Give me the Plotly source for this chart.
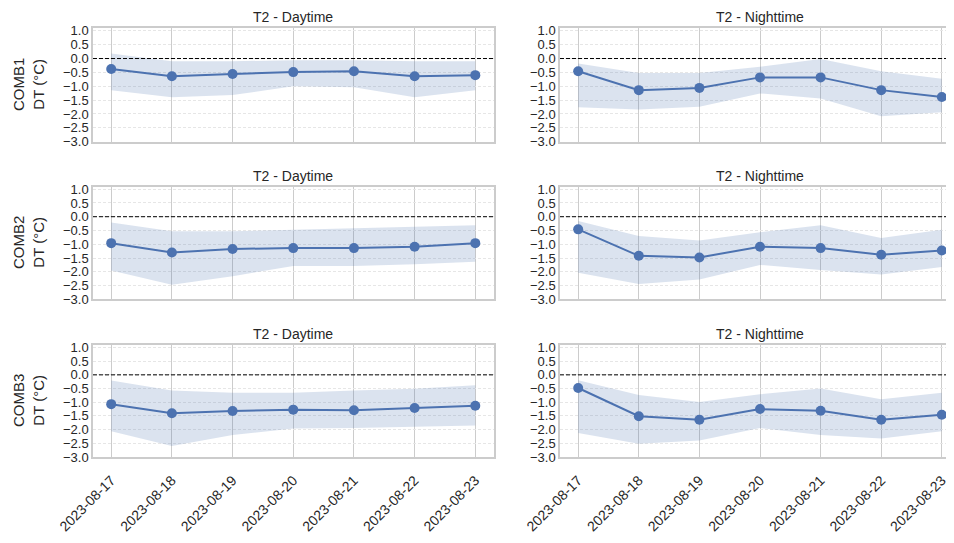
import plotly.graph_objects as go

dates = ["2023-08-17", "2023-08-18", "2023-08-19", "2023-08-20",
         "2023-08-21", "2023-08-22", "2023-08-23"]

# COMB1
comb1_day_mean = [-0.38, -0.64, -0.56, -0.49, -0.46, -0.64, -0.60]
comb1_day_upper = [0.18, -0.10, -0.10, -0.06, -0.06, -0.10, -0.10]
comb1_day_lower = [-1.14, -1.40, -1.32, -1.00, -1.04, -1.40, -1.14]
comb1_night_mean = [-0.46, -1.14, -1.06, -0.68, -0.68, -1.14, -1.39]
comb1_night_upper = [-0.18, -0.52, -0.52, -0.30, -0.02, -0.46, -0.73]
comb1_night_lower = [-1.76, -1.84, -1.74, -1.26, -1.44, -2.08, -1.94]
# COMB2
comb2_day_mean = [-0.96, -1.30, -1.17, -1.14, -1.14, -1.09, -0.96]
comb2_day_upper = [-0.21, -0.53, -0.53, -0.47, -0.41, -0.37, -0.31]
comb2_day_lower = [-1.95, -2.47, -2.16, -1.79, -1.79, -1.73, -1.64]
comb2_night_mean = [-0.46, -1.42, -1.48, -1.09, -1.14, -1.38, -1.23]
comb2_night_upper = [-0.16, -0.70, -0.86, -0.56, -0.31, -0.77, -0.47]
comb2_night_lower = [-2.04, -2.44, -2.28, -1.75, -1.94, -2.10, -1.83]
# COMB3
comb3_day_mean = [-1.07, -1.40, -1.32, -1.27, -1.29, -1.21, -1.13]
comb3_day_upper = [-0.21, -0.57, -0.65, -0.65, -0.57, -0.51, -0.38]
comb3_day_lower = [-2.06, -2.60, -2.20, -1.96, -1.94, -1.90, -1.85]
comb3_night_mean = [-0.48, -1.51, -1.64, -1.25, -1.31, -1.64, -1.46]
comb3_night_upper = [-0.20, -0.74, -0.99, -0.71, -0.50, -0.89, -0.65]
comb3_night_lower = [-2.12, -2.52, -2.40, -1.94, -2.20, -2.32, -2.06]

row_labels = ["COMB1", "COMB2", "COMB3"]
col_titles = ["T2 - Daytime", "T2 - Nighttime"]
y_ticks = [1.0, 0.5, 0.0, -0.5, -1.0, -1.5, -2.0, -2.5, -3.0]

panels = [
    (comb1_day_mean, comb1_day_upper, comb1_day_lower),
    (comb1_night_mean, comb1_night_upper, comb1_night_lower),
    (comb2_day_mean, comb2_day_upper, comb2_day_lower),
    (comb2_night_mean, comb2_night_upper, comb2_night_lower),
    (comb3_day_mean, comb3_day_upper, comb3_day_lower),
    (comb3_night_mean, comb3_night_upper, comb3_night_lower),
]

LINE = "#4c72b0"
BAND = "rgba(76,114,176,0.2)"
FRAME = "#cccccc"
TXT = "#262626"
FONT = "Liberation Sans, Arial, sans-serif"

# the page body adds an 8px offset; figure coordinates = screen - 8
OFF = 8
W, H = 954, 543
ML, MR, MT, MB = 93 - OFF, 2, 28 - OFF, 543 - (457 - OFF)
PW = W - ML - MR
PH = H - MT - MB

def clamp(v):
    return min(1.0, max(0.0, v))

def xdom(sx0, sx1):
    return [clamp((sx0 - OFF - ML) / PW), clamp((sx1 - OFF - ML) / PW)]

def ydom(stop, sbot):
    return [clamp((H - MB - (sbot - OFF)) / PH), clamp((H - MB - (stop - OFF)) / PH)]

col_x = [xdom(93, 493.5), xdom(560, 960)]
row_y = [ydom(28.3, 141.7), ydom(186.7, 299.3), ydom(345, 457)]

fig = go.Figure()
layout = dict(
    width=W, height=H,
    margin=dict(l=ML, r=MR, t=MT, b=MB, autoexpand=False),
    paper_bgcolor="white", plot_bgcolor="white",
    showlegend=False,
    font=dict(family=FONT, color=TXT, size=13),
)
shapes = []
annotations = []

for i, (mean, upper, lower) in enumerate(panels):
    r, c = divmod(i, 2)
    n = i + 1
    xa = "x" if n == 1 else f"x{n}"
    ya = "y" if n == 1 else f"y{n}"
    fig.add_trace(go.Scatter(x=dates, y=lower, mode="lines", line=dict(width=0, color=BAND),
                             xaxis=xa, yaxis=ya, hoverinfo="skip"))
    fig.add_trace(go.Scatter(x=dates, y=upper, mode="lines", line=dict(width=0, color=BAND),
                             fill="tonexty", fillcolor=BAND, xaxis=xa, yaxis=ya, hoverinfo="skip"))
    fig.add_trace(go.Scatter(x=dates, y=mean, mode="lines+markers",
                             line=dict(color=LINE, width=2),
                             marker=dict(color=LINE, size=10),
                             xaxis=xa, yaxis=ya))
    xkey = "xaxis" if n == 1 else f"xaxis{n}"
    ykey = "yaxis" if n == 1 else f"yaxis{n}"
    layout[xkey] = dict(
        domain=col_x[c], anchor=ya, type="category",
        categoryorder="array", categoryarray=dates,
        range=[-0.3, 6.3], automargin=False,
        showgrid=True, gridcolor=FRAME, gridwidth=1,
        showline=True, linecolor=FRAME, linewidth=1.5, mirror=True,
        zeroline=False, ticks="outside", ticklen=8, tickcolor="rgba(0,0,0,0)",
        showticklabels=(r == 2), tickangle=-45,
        tickfont=dict(size=14, color=TXT),
    )
    layout[ykey] = dict(
        domain=row_y[r], anchor=xa,
        range=[-3.0, 1.09], automargin=False,
        tickvals=y_ticks, tickformat=".1f",
        showgrid=True, gridcolor="#e6e6e6", gridwidth=1, griddash="3px,2px",
        showline=True, linecolor=FRAME, linewidth=1.5, mirror=True,
        zeroline=False, ticks="",
        tickfont=dict(size=13, color=TXT),
    )
    shapes.append(dict(type="line", xref=f"{xa} domain", yref=ya,
                       x0=0, x1=1, y0=0, y1=0,
                       line=dict(color="black", width=1, dash="4px,2px")))
    annotations.append(dict(text=col_titles[c], xref=f"{xa} domain", yref=f"{ya} domain",
                            x=0.5, y=1, yshift=1,
                            xanchor="center", yanchor="bottom", showarrow=False,
                            font=dict(size=14, color=TXT)))
    if c == 0:
        annotations.append(dict(text=f"{row_labels[r]}<br>DT (°C)", xref="paper",
                                yref=f"{ya} domain", x=0, xshift=-(93 - 28), y=0.5,
                                xanchor="center", yanchor="middle", textangle=-90,
                                showarrow=False, font=dict(size=15, color=TXT)))

layout["shapes"] = shapes
layout["annotations"] = annotations
fig.update_layout(**layout)
fig.write_html("out.html")
